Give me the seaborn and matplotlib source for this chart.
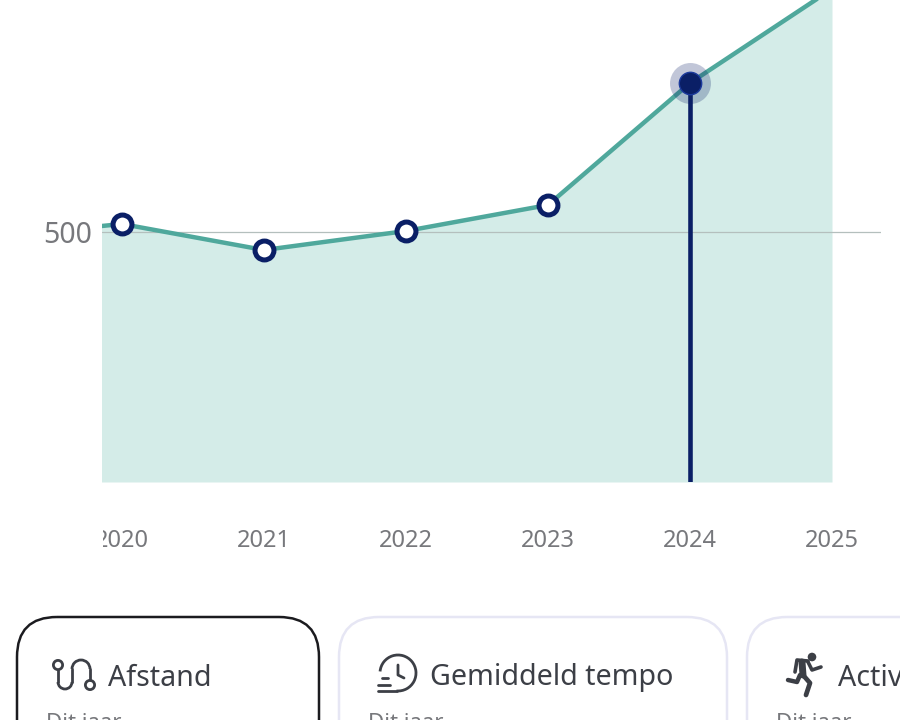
import matplotlib
matplotlib.use("Agg")
import matplotlib.pyplot as plt
import pandas as pd
import seaborn as sns
from matplotlib.patches import Arc, Circle, FancyBboxPatch, Rectangle
from matplotlib.transforms import IdentityTransform

# chart values
years = [2019, 2020, 2021, 2022, 2023, 2024, 2025]
distance = [488, 516, 464, 502, 554, 798, 986]
marker_years = [2020, 2021, 2022, 2023]
marker_values = [516, 464, 502, 554]
active_year = [2024]
active_value = [798]
x_ticks = [2020, 2021, 2022, 2023, 2024, 2025]
y_ticks = [500]

LINE = "#4fa89c"
FILL = "#d4ece8"
NAVY = "#0a1f66"
GREY = "#77787c"
DARK = "#3c3f46"
CARD = "#e6e6f4"

W, H = 900, 720


def px_rect(left, top, right, bottom):
    """Figure fractions from pixel edges (origin top left)."""
    return [left / W, 1 - bottom / H, (right - left) / W, (bottom - top) / H]


sns.set_theme(style="white")
plt.rcParams["font.family"] = ["Noto Sans", "DejaVu Sans"]

fig = plt.figure(figsize=(W / 100, H / 100), dpi=100)
ax = fig.add_axes(px_rect(102, 0, 881, 482))

df = pd.DataFrame({"year": years, "distance": distance})

ax.fill_between(df["year"], df["distance"], 0, color=FILL, linewidth=0, zorder=1)
ax.axhline(500, color="#b4bfbd", linewidth=0.9, zorder=2)
sns.lineplot(data=df, x="year", y="distance", color=LINE, linewidth=3.2, ax=ax, zorder=3)

ax.vlines(active_year, 0, active_value, color=NAVY, linewidth=3.3, zorder=4)
sns.scatterplot(x=active_year, y=active_value, s=870, color=NAVY, alpha=0.25,
                linewidth=0, ax=ax, zorder=5)
sns.scatterplot(x=active_year, y=active_value, s=260, color=NAVY,
                edgecolor="#1c3a9c", linewidth=1.0, ax=ax, zorder=6)
sns.scatterplot(x=marker_years, y=marker_values, s=185, color="white",
                edgecolor=NAVY, linewidth=3.6, ax=ax, zorder=6)

ax.set_xlim(2020 - 20 / 142, 2020 + 759 / 142)
ax.set_ylim(0, 964)
ax.set_xticks(x_ticks)
ax.set_yticks(y_ticks)
ax.set_xlabel("")
ax.set_ylabel("")
ax.tick_params(axis="x", length=0, pad=33.5, labelsize=17, labelcolor=GREY)
ax.tick_params(axis="y", length=0, pad=7, labelsize=20.5, labelcolor=GREY)
sns.despine(ax=ax, left=True, bottom=True)

# the first year label is cut off at the left edge of the plot
fig.canvas.draw()
label_clip = Rectangle((103, 0), W, H, transform=IdentityTransform(), visible=False)
ax.get_xticklabels()[0].set_clip_path(label_clip)
ax.get_xticklabels()[0].set_clip_on(True)

# metric cards underneath, drawn in pixel coordinates
ui = fig.add_axes([0, 0, 1, 1], zorder=10)
ui.set_xlim(0, W)
ui.set_ylim(H, 0)
ui.axis("off")
ui.patch.set_alpha(0)

cards = [(17, 319, "#1b1b1f", 1.8), (339, 727, CARD, 1.8), (747, 1100, CARD, 1.8)]
for left, right, colour, lw in cards:
    ui.add_patch(FancyBboxPatch((left + 40, 617 + 40), right - left - 80, 200,
                                boxstyle="round,pad=40,rounding_size=40",
                                fill=False, edgecolor=colour, linewidth=lw, clip_on=True))

ui.text(108, 678, "Afstand", fontsize=20.6, color=DARK, va="center")
ui.text(430, 678, "Gemiddeld tempo", fontsize=20.6, color=DARK, va="center")
ui.text(838, 678, "Activiteiten", fontsize=20.6, color=DARK, va="center", clip_on=True)
for x in (46, 368, 776):
    ui.text(x, 724, "Dit jaar", fontsize=16, color=GREY, va="center", clip_on=True)

# route icon
icon_lw = 2.0
ui.add_patch(Circle((58, 665), 4.6, fill=False, edgecolor=DARK, linewidth=icon_lw))
ui.add_patch(Circle((90, 685), 4.6, fill=False, edgecolor=DARK, linewidth=icon_lw))
ui.plot([58, 58], [670, 682], color=DARK, linewidth=icon_lw)
ui.add_patch(Arc((65, 682), 14, 14, theta1=0, theta2=180, color=DARK, linewidth=icon_lw))
ui.plot([72, 72], [682, 669], color=DARK, linewidth=icon_lw)
ui.add_patch(Arc((81, 669), 18, 18, theta1=180, theta2=360, color=DARK, linewidth=icon_lw))
ui.plot([90, 90], [669, 680], color=DARK, linewidth=icon_lw)

# clock icon
ui.add_patch(Arc((398, 673), 36, 36, theta1=185, theta2=455, color=DARK, linewidth=icon_lw))
ui.plot([398, 398, 404], [665, 675, 678], color=DARK, linewidth=icon_lw, solid_capstyle="round")
ui.plot([382, 388], [678, 678], color=DARK, linewidth=icon_lw, solid_capstyle="round")
ui.plot([378, 390], [685, 685], color=DARK, linewidth=icon_lw, solid_capstyle="round")
ui.plot([378, 397], [691, 691], color=DARK, linewidth=icon_lw, solid_capstyle="round")

# runner icon
ui.add_patch(Circle((812, 657), 4.3, color=DARK, linewidth=0))
limbs = [
    ([802, 803], [662, 675], 5.0),
    ([800, 797, 788], [675, 682, 680], 3.2),
    ([803, 810, 806], [675, 683, 695], 3.4),
    ([808, 812, 821], [662, 670, 667], 2.6),
    ([808, 797, 795], [661, 660, 672], 2.6),
]
for xs, ys, lw in limbs:
    ui.plot(xs, ys, color=DARK, linewidth=lw, solid_capstyle="round", solid_joinstyle="round")

fig.savefig("out.png", dpi=100)
